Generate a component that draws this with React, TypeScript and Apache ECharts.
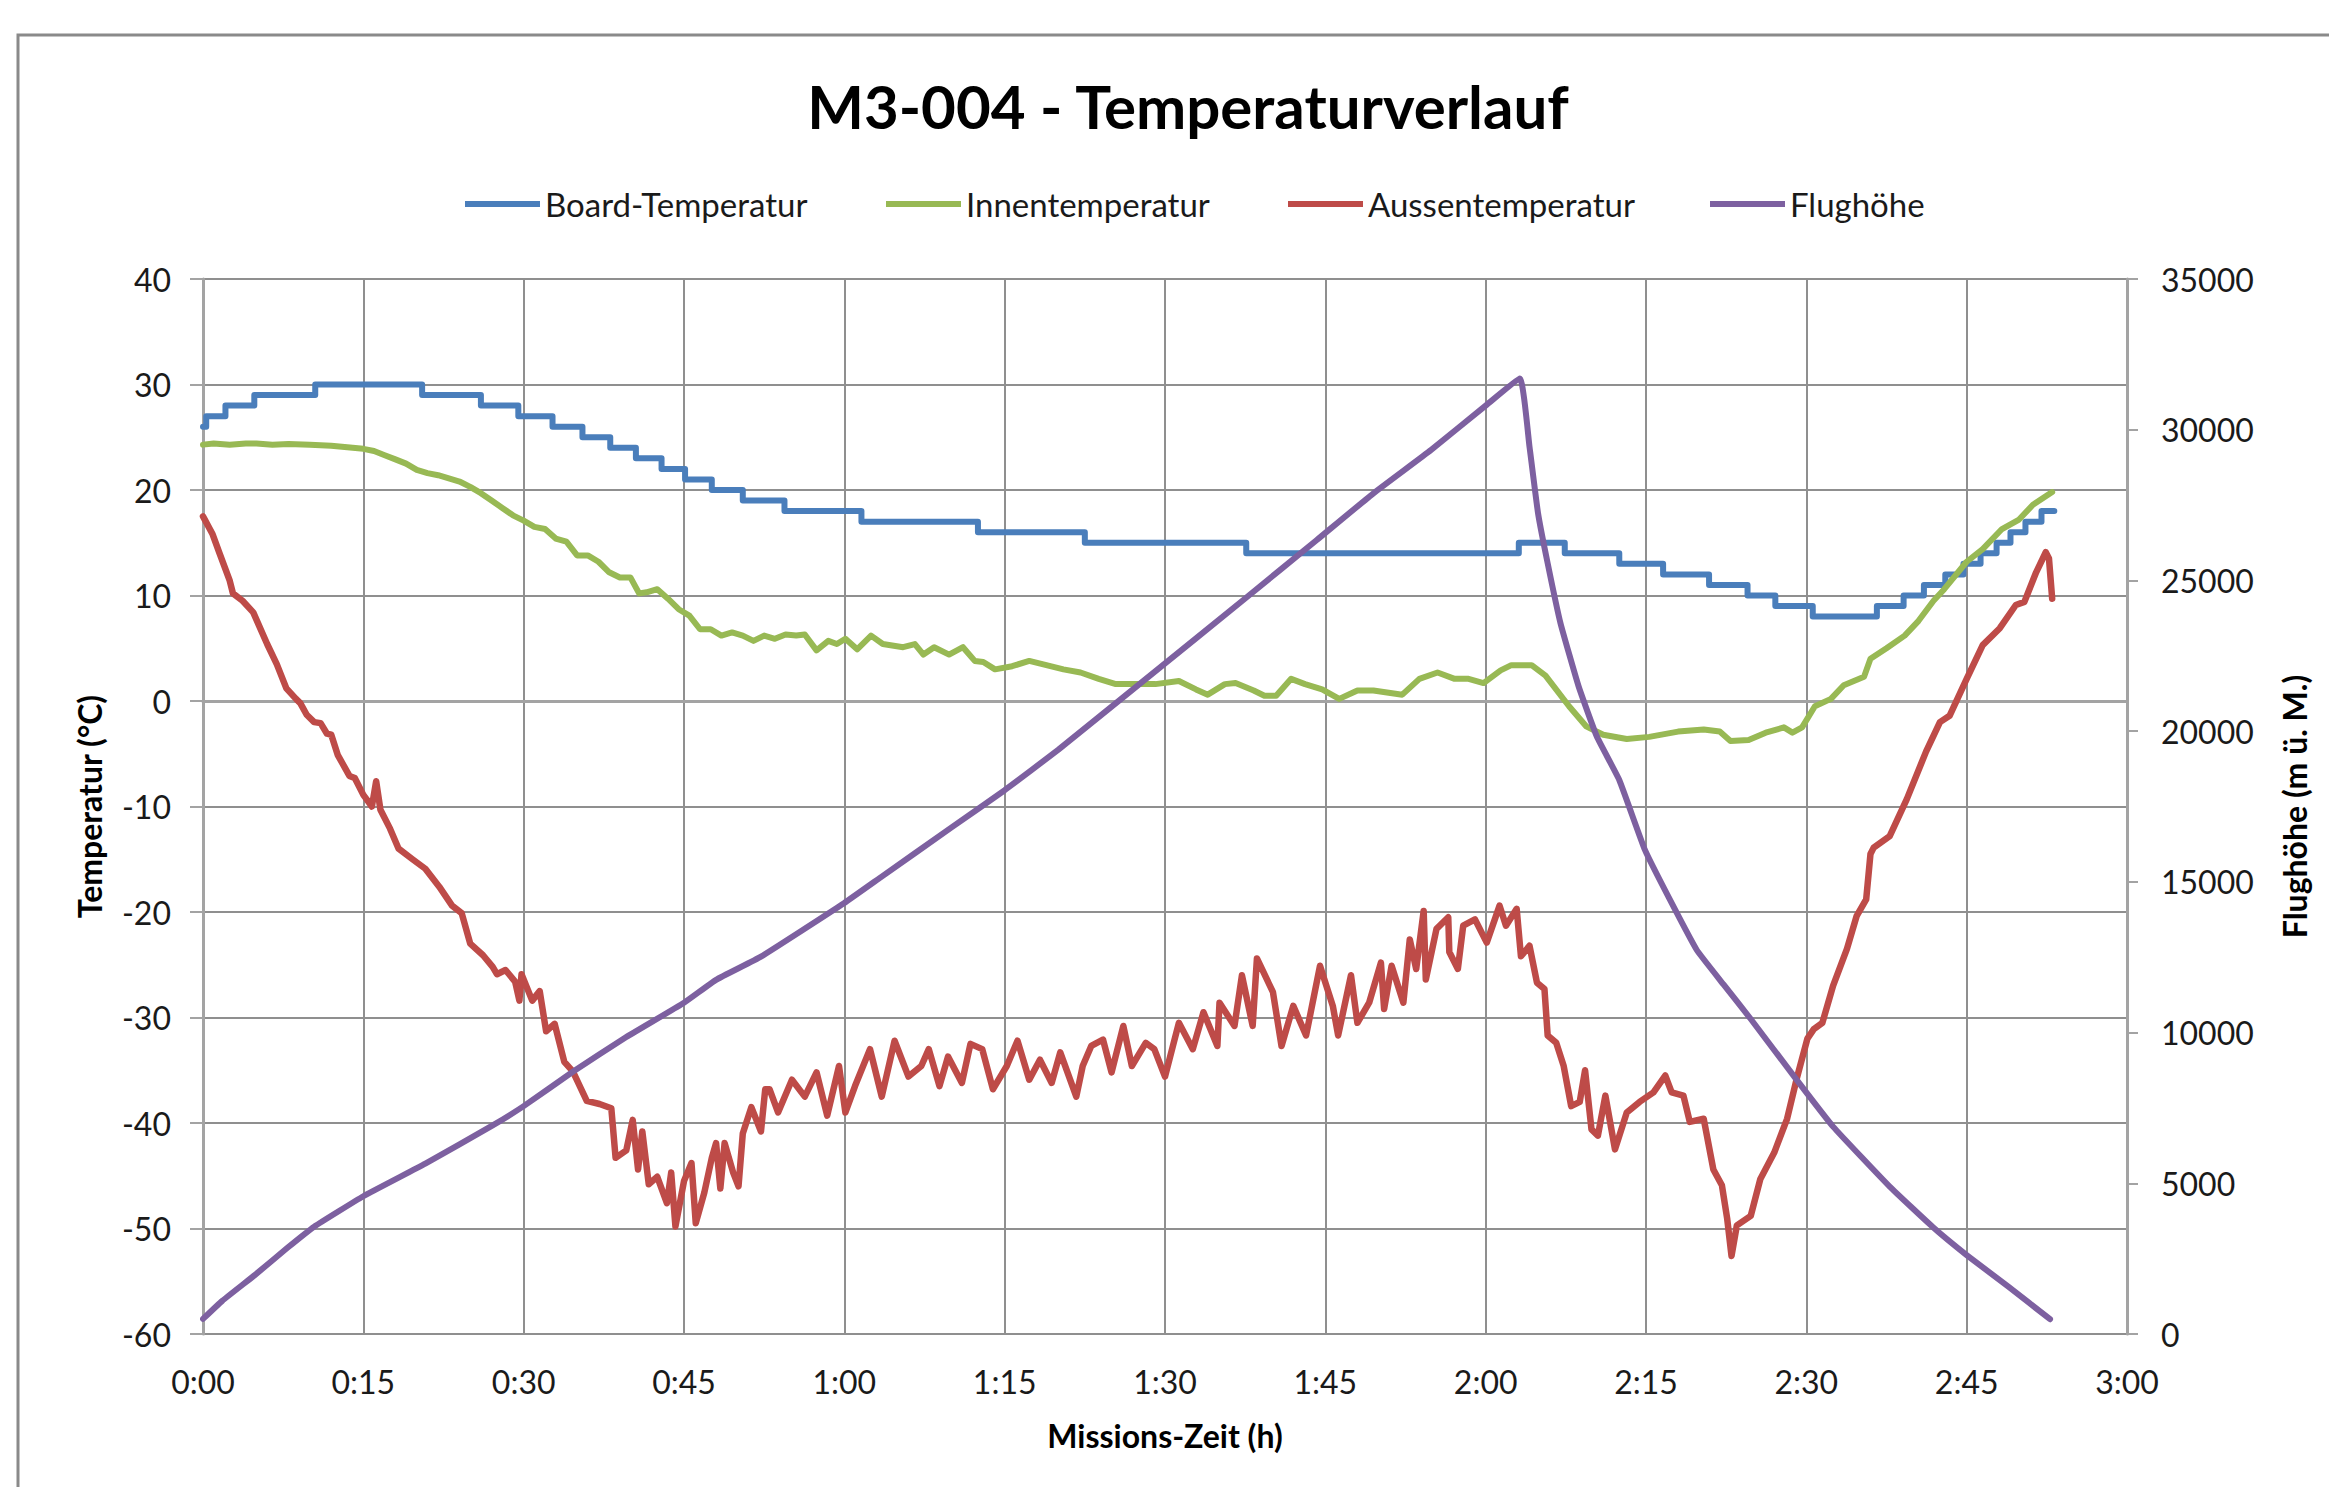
import React, { useEffect, useRef } from "react";
import * as echarts from "echarts";

// time in minutes since mission start, value
const boardTemp: number[][] = [
  [0, 26], [0.3, 27], [2.1, 28], [4.8, 29], [10.5, 30], [20.5, 29], [26, 28], [29.5, 27],
  [32.7, 26], [35.5, 25], [38.1, 24], [40.5, 23], [42.9, 22], [45.1, 21], [47.6, 20],
  [50.5, 19], [54.4, 18], [61.6, 17], [72.5, 16], [82.5, 15], [97.6, 14], [123.1, 15],
  [127.4, 14], [132.5, 13], [136.6, 12], [140.9, 11], [144.5, 10], [147.1, 9], [150.6, 8],
  [156.6, 9], [159.1, 10], [161, 11], [163, 12], [164.7, 13], [166.3, 14], [167.8, 15],
  [169.1, 16], [170.5, 17], [172, 18], [173.2, 18],
];

const innenTemp: number[][] = [
  [0, 24.3], [1, 24.4], [2.5, 24.3], [4, 24.4], [5, 24.4], [6.5, 24.3], [8, 24.35], [10, 24.3],
  [12, 24.2], [14, 24.0], [15, 23.9], [16, 23.7], [17, 23.3], [18, 22.9], [19, 22.5], [20, 21.9],
  [21, 21.6], [22, 21.4], [23, 21.1], [24, 20.8], [25, 20.3], [26, 19.7], [27, 19.0], [28, 18.3],
  [29, 17.6], [30, 17.1], [31, 16.5], [32, 16.3], [33, 15.4], [34, 15.1], [35, 13.8], [36, 13.8],
  [37, 13.2], [38, 12.2], [39, 11.7], [40, 11.7], [40.8, 10.2], [41.5, 10.3], [42.5, 10.6],
  [43.5, 9.7], [44.5, 8.7], [45.5, 8.1], [46.5, 6.8], [47.5, 6.8], [48.5, 6.2], [49.5, 6.5],
  [50.5, 6.2], [51.5, 5.7], [52.5, 6.2], [53.5, 5.9], [54.5, 6.3], [55.5, 6.2], [56.3, 6.3],
  [57.4, 4.8], [58.5, 5.7], [59.3, 5.4], [60.1, 5.9], [61.2, 4.9], [62.5, 6.2], [63.6, 5.4],
  [65.5, 5.1], [66.6, 5.4], [67.4, 4.4], [68.4, 5.1], [69.8, 4.4], [71.1, 5.1], [72.2, 3.8],
  [73, 3.7], [74.1, 3.0], [75.7, 3.3], [77.3, 3.8], [78.9, 3.4], [80.5, 3.0], [82.1, 2.7],
  [83.8, 2.1], [85.4, 1.6], [87, 1.6], [89.1, 1.6], [91.3, 1.9], [92.9, 1.1], [94, 0.6],
  [95.6, 1.6], [96.6, 1.7], [98.3, 1.0], [99.3, 0.5], [100.4, 0.5], [101.8, 2.1], [103.1, 1.6],
  [104.7, 1.1], [106.3, 0.2], [108, 1.0], [109.5, 1.0], [112.2, 0.6], [113.8, 2.1], [115.5, 2.7],
  [117.1, 2.1], [118.4, 2.1], [119.8, 1.7], [121.4, 2.9], [122.4, 3.4], [124.3, 3.4], [125.6, 2.4],
  [127.8, -0.5], [129.4, -2.4], [131, -3.2], [133.2, -3.6], [135.3, -3.4], [138, -2.9],
  [140.4, -2.7], [141.9, -2.9], [142.9, -3.8], [144.6, -3.7], [146.2, -3.0], [147.9, -2.5],
  [148.7, -3.0], [149.6, -2.5], [150.8, -0.5], [152.3, 0.2], [153.5, 1.5], [155.4, 2.3],
  [156, 4.0], [157.5, 5.0], [159.2, 6.2], [160.5, 7.6], [161.9, 9.5], [162.9, 10.6], [165, 13.2],
  [166.5, 14.4], [168.3, 16.3], [169.9, 17.2], [171.2, 18.6], [173, 19.8],
];

const aussenTemp: number[][] = [
  [0, 17.5], [0.9, 15.8], [1.55, 14.0], [2.5, 11.4], [2.8, 10.2], [3.7, 9.5], [4.7, 8.4],
  [6.0, 5.4], [6.9, 3.5], [7.8, 1.2], [8.7, 0.2], [9.1, -0.2], [9.7, -1.3], [10.4, -2.0],
  [11.0, -2.1], [11.6, -3.1], [12.0, -3.2], [12.6, -5.1], [13.7, -7.1], [14.2, -7.3],
  [15.0, -8.9], [15.8, -10.0], [16.2, -7.6], [16.6, -10.3], [17.5, -12.1], [18.3, -14.0],
  [19.6, -15.0], [20.8, -15.9], [22.1, -17.6], [23.3, -19.4], [24.2, -20.1], [25.0, -23.0],
  [26.2, -24.1], [27.1, -25.2], [27.5, -25.9], [28.3, -25.5], [29.2, -26.6], [29.6, -28.4],
  [29.8, -25.9], [30.8, -28.4], [31.5, -27.5], [32.1, -31.3], [32.9, -30.6], [33.8, -34.2],
  [34.6, -35.1], [35.9, -37.9], [37.1, -38.2], [38.2, -38.6], [38.6, -43.3], [39.6, -42.6],
  [40.2, -39.7], [40.7, -44.4], [41.1, -40.8], [41.7, -45.8], [42.5, -45.1], [43.4, -47.6],
  [43.8, -44.7], [44.2, -49.8], [45.0, -45.5], [45.7, -43.8], [46.1, -49.5], [46.9, -46.6],
  [47.6, -43.3], [48.0, -41.9], [48.4, -46.2], [48.8, -41.9], [49.6, -44.7], [50.1, -46.0],
  [50.5, -41.0], [51.3, -38.5], [52.2, -40.8], [52.6, -36.8], [53.0, -36.8], [53.8, -39.0],
  [55.1, -35.9], [56.3, -37.5], [57.4, -35.2], [58.4, -39.3], [59.5, -34.6], [60.1, -39.0],
  [61.0, -36.5], [62.4, -33.0], [63.5, -37.5], [64.7, -32.2], [66.0, -35.6], [67.2, -34.6],
  [67.9, -33.0], [68.9, -36.5], [69.7, -33.7], [71.0, -36.2], [71.8, -32.5], [72.9, -33.0],
  [73.9, -36.8], [75.2, -34.6], [76.2, -32.2], [77.3, -35.9], [78.3, -34.0], [79.4, -36.2],
  [80.2, -33.3], [81.7, -37.5], [82.3, -34.6], [83.1, -32.7], [84.2, -32.1], [85.0, -35.2],
  [86.1, -30.8], [86.9, -34.6], [88.2, -32.4], [89.0, -33.0], [90.0, -35.6], [91.3, -30.5],
  [92.6, -33.0], [93.6, -29.5], [94.9, -32.7], [95.1, -28.6], [96.5, -30.8], [97.2, -26.0],
  [98.2, -30.8], [98.6, -24.4], [100.1, -27.6], [100.9, -32.7], [102.0, -28.9], [103.2, -31.7],
  [104.5, -25.1], [105.7, -28.9], [106.2, -31.7], [107.4, -26.0], [108.0, -30.5], [109.1, -28.6],
  [110.2, -24.8], [110.5, -29.2], [111.2, -25.1], [112.3, -28.6], [112.9, -22.6], [113.5, -25.4],
  [114.2, -19.9], [114.4, -26.4], [115.4, -21.6], [116.5, -20.5], [116.6, -23.8], [117.4, -25.4],
  [117.9, -21.3], [119.0, -20.7], [120.1, -22.9], [121.3, -19.4], [121.9, -21.3], [122.9, -19.7],
  [123.3, -24.2], [124.1, -23.2], [124.8, -26.7], [125.5, -27.3], [125.8, -31.7], [126.6, -32.4],
  [127.3, -34.6], [128.0, -38.4], [128.8, -38.0], [129.3, -35.0], [129.9, -40.6], [130.5, -41.2],
  [131.2, -37.4], [132.1, -42.5], [133.2, -39.0], [134.4, -38.0], [135.7, -37.1], [136.8, -35.5],
  [137.4, -37.1], [138.5, -37.4], [139.1, -39.9], [140.4, -39.6], [141.3, -44.4], [142.1, -45.9],
  [142.6, -49.1], [143.0, -52.6], [143.5, -49.7], [144.8, -48.8], [145.7, -45.3], [147.0, -42.8],
  [148.2, -39.6], [149.1, -35.8], [150.1, -32.0], [150.7, -31.1], [151.5, -30.5], [152.5, -27.0],
  [153.8, -23.5], [154.7, -20.4], [155.6, -18.8], [156.0, -14.5], [156.3, -13.9], [157.8, -12.8],
  [159.4, -9.3], [161.2, -4.8], [162.5, -2.0], [163.4, -1.4], [165.0, 2.1], [166.5, 5.3],
  [168.1, 6.9], [169.6, 9.1], [170.4, 9.4], [171.5, 12.2], [172.4, 14.1], [172.7, 13.5],
  [173.0, 9.7],
];

const flughoehe: number[][] = [
  [0, 500], [1.8, 1100], [4.9, 1970], [7.9, 2860], [10.4, 3560], [15, 4570], [20.8, 5650],
  [27.1, 6920], [30, 7560], [34.6, 8700], [39.6, 9850], [45, 10990], [48, 11750], [52.2, 12520],
  [60, 14300], [63.4, 15150], [70, 16800], [75, 18040], [80, 19380], [88.1, 21700], [97.7, 24460],
  [104.2, 26340], [109.5, 27890], [114.9, 29330], [120, 30800], [123.2, 31700], [124.1, 29440],
  [124.9, 27230], [125.8, 25570], [127, 23580], [128.7, 21480], [130.4, 19820], [132.5, 18380],
  [134.9, 16060], [137.25, 14400], [139.75, 12740], [142.25, 11600], [144.8, 10450],
  [149.1, 8430], [152.5, 6880], [157.8, 4890], [161.8, 3560], [165, 2620], [168.9, 1570],
  [172.8, 490],
];

const seriesNames = ["Board-Temperatur", "Innentemperatur", "Aussentemperatur", "Flughöhe"];
const seriesColors = ["#4A7EBB", "#98B954", "#BE4B48", "#7D60A0"];
const legendLefts = [460, 881, 1283, 1705];

const fmtTime = (m: number) => `${Math.floor(m / 60)}:${String(Math.round(m % 60)).padStart(2, "0")}`;

const FONT = "Lato";

export default function App() {
  const ref = useRef<HTMLDivElement>(null);
  useEffect(() => {
    if (!ref.current) return;
    const chart = echarts.init(ref.current, undefined, { renderer: "svg" });
    const gridColor = "#8f8f8f";
    const axisColor = "#a3a3a3";
    const labelStyle = { fontFamily: FONT, fontSize: 32, color: "#1a1a1a" };
    const nameStyle = { fontFamily: FONT, fontSize: 32, fontWeight: "bold" as const, color: "#000" };
    const datasets = [boardTemp, innenTemp, aussenTemp, flughoehe];
    const widths = [6, 6, 6.5, 6];
    chart.setOption({
      animation: false,
      textStyle: { fontFamily: FONT },
      graphic: [
        {
          type: "rect",
          shape: { x: 18, y: 35, width: 2400, height: 1600 },
          style: { fill: "none", stroke: "#8a8a8a", lineWidth: 3 },
          silent: true,
        },
        {
          type: "text",
          x: 1188,
          y: 106,
          style: {
            text: "M3-004 - Temperaturverlauf",
            fontFamily: FONT,
            fontSize: 60,
            fontWeight: "bold",
            fill: "#000",
            textAlign: "center",
            textVerticalAlign: "middle",
          },
        },
      ],
      legend: seriesNames.map((n, i) => ({
        data: [n],
        left: legendLefts[i],
        top: 182,
        icon: "rect",
        itemWidth: 75,
        itemHeight: 6,
        textStyle: { fontFamily: FONT, fontSize: 33, color: "#1a1a1a", lineHeight: 34 },
      })),
      grid: { left: 203, right: 202, top: 279, bottom: 153 },
      xAxis: {
        type: "value",
        min: 0,
        max: 180,
        interval: 15,
        axisLine: { show: true, lineStyle: { color: axisColor, width: 3 } },
        axisTick: { show: false },
        splitLine: { show: true, lineStyle: { color: gridColor, width: 2 } },
        axisLabel: { ...labelStyle, margin: 31, formatter: (v: number) => fmtTime(v) },
        name: "Missions-Zeit (h)",
        nameLocation: "middle",
        nameGap: 85,
        nameTextStyle: nameStyle,
      },
      yAxis: [
        {
          type: "value",
          min: -60,
          max: 40,
          interval: 10,
          position: "left",
          axisLine: { show: true, lineStyle: { color: axisColor, width: 3 } },
          axisTick: { show: true, length: 13, lineStyle: { color: axisColor, width: 2 } },
          splitLine: { show: true, lineStyle: { color: gridColor, width: 2 } },
          axisLabel: { ...labelStyle, margin: 32 },
          name: "Temperatur (°C)",
          nameLocation: "middle",
          nameGap: 98,
          nameRotate: 90,
          nameTextStyle: nameStyle,
        },
        {
          type: "value",
          min: 0,
          max: 35000,
          interval: 5000,
          position: "right",
          axisLine: { show: true, lineStyle: { color: axisColor, width: 3 } },
          axisTick: { show: true, length: 11, lineStyle: { color: axisColor, width: 2 } },
          splitLine: { show: false },
          axisLabel: { ...labelStyle, margin: 34, formatter: (v: number) => String(v) },
          name: "Flughöhe (m ü. M.)",
          nameLocation: "middle",
          nameGap: 151,
          nameRotate: 90,
          nameTextStyle: nameStyle,
        },
      ],
      series: seriesNames.map((n, i) => ({
        name: n,
        type: "line",
        yAxisIndex: i === 3 ? 1 : 0,
        data: datasets[i],
        step: i === 0 ? "end" : undefined,
        smooth: i === 3 ? 0.12 : false,
        showSymbol: false,
        symbol: "none",
        color: seriesColors[i],
        lineStyle: { color: seriesColors[i], width: widths[i], cap: "round", join: "round" },
      })),
    });
    return () => chart.dispose();
  }, []);
  return (
    <div
      ref={ref}
      style={{ position: "fixed", left: 0, top: 0, width: 2329, height: 1487, background: "#fff" }}
    />
  );
}
